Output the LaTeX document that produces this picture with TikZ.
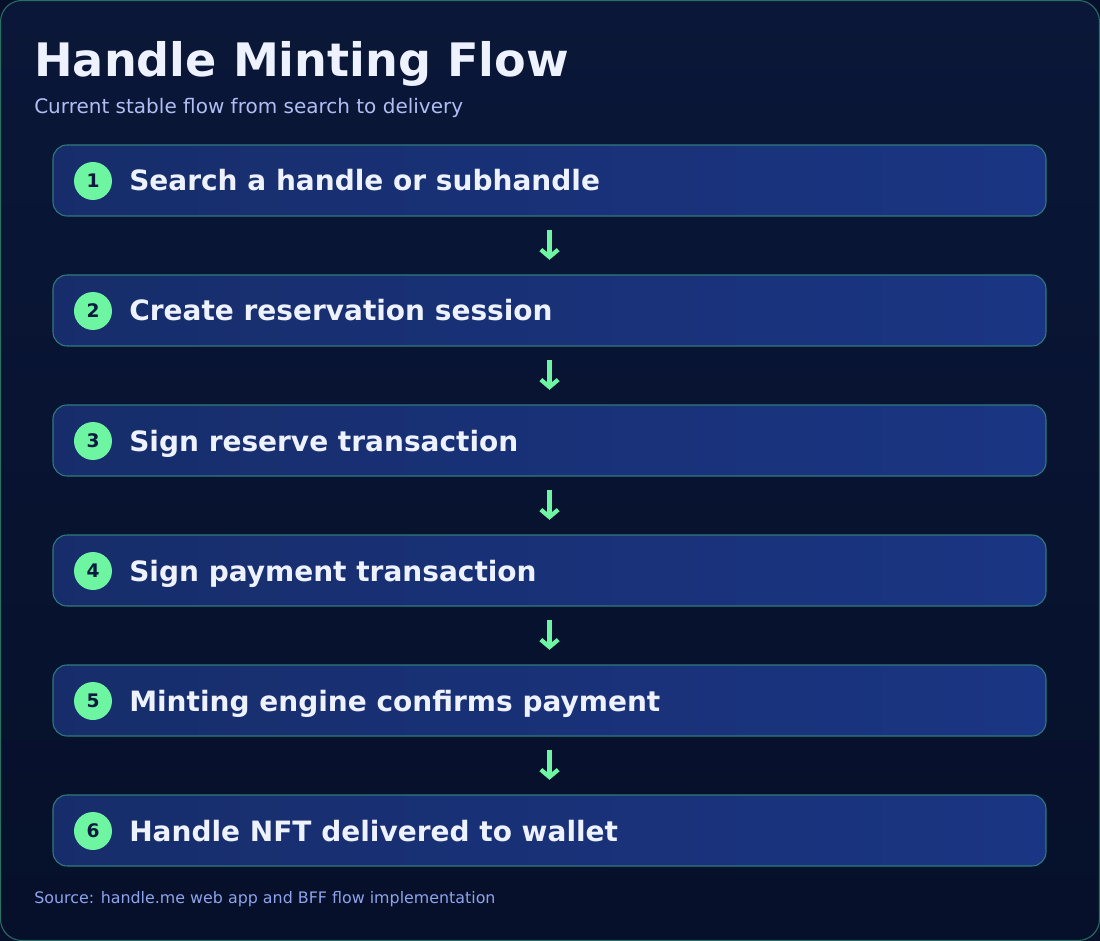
\documentclass[tikz,border=0pt]{standalone}
\usepackage{fontspec}
\setmainfont{DejaVu Sans}
\usetikzlibrary{arrows.meta}

\definecolor{panelbg}{HTML}{0A1738}
\definecolor{paneldark}{HTML}{06102A}
\definecolor{panelline}{HTML}{2A6E64}
\definecolor{boxleft}{HTML}{172D6B}
\definecolor{boxright}{HTML}{1A3583}
\definecolor{boxline}{HTML}{2F7A7C}
\definecolor{mint}{HTML}{6EF5A2}
\definecolor{titletext}{HTML}{EEF2FF}
\definecolor{subtext}{HTML}{B0BEF4}
\definecolor{notetext}{HTML}{8EA3EC}
\definecolor{badgetext}{HTML}{0B1A3E}

\tikzset{
  stepbox/.style={draw=boxline, line width=0.8pt, rounded corners=10.5pt,
    left color=boxleft, right color=boxright,
    minimum width=744.75pt, minimum height=53.25pt, inner sep=0pt},
  badge/.style={circle, fill=mint, minimum size=28.5pt, inner sep=0pt,
    text=badgetext, font=\fontsize{14pt}{16pt}\selectfont\bfseries},
  steptext/.style={anchor=base west, inner sep=0pt, text=titletext,
    font=\fontsize{21pt}{25pt}\selectfont\bfseries},
  flowarrow/.style={draw=mint, line width=3.2pt, shorten <=10pt, shorten >=11pt,
    -{Straight Barb[length=5.5pt,width=13pt]}}
}

\begin{document}
\begin{tikzpicture}[x=0.75pt, y=-0.75pt]
\useasboundingbox (0,0) rectangle (1100,941);
\fill[paneldark] (0,0) rectangle (1100,941);
\path[draw=panelline, line width=0.8pt, rounded corners=16pt,
  top color=panelbg, bottom color=paneldark] (0.5,0.5) rectangle (1099.5,940.5);

\node[anchor=base west, inner sep=0pt, text=titletext,
  font=\fontsize{34.6pt}{40pt}\selectfont\bfseries] (title) at (34,77) {Handle Minting Flow};
\node[anchor=base west, inner sep=0pt, text=subtext,
  font=\fontsize{15pt}{18pt}\selectfont] (subtitle) at (34,113.5) {Current stable flow from search to delivery};

\node[stepbox] (s1) at (549.5,180.5) {};
\node[stepbox] (s2) at (549.5,310.5) {};
\node[stepbox] (s3) at (549.5,440.5) {};
\node[stepbox] (s4) at (549.5,570.5) {};
\node[stepbox] (s5) at (549.5,700.5) {};
\node[stepbox] (s6) at (549.5,830.5) {};

\node[badge] (b1) at (93,181) {1};
\node[badge] (b2) at (93,311) {2};
\node[badge] (b3) at (93,441) {3};
\node[badge] (b4) at (93,571) {4};
\node[badge] (b5) at (93,701) {5};
\node[badge] (b6) at (93,831) {6};

\node[steptext] (t1) at (129,191) {Search a handle or subhandle};
\node[steptext] (t2) at (129,321) {Create reservation session};
\node[steptext] (t3) at (129,451) {Sign reserve transaction};
\node[steptext] (t4) at (129,581) {Sign payment transaction};
\node[steptext] (t5) at (129,711) {Minting engine confirms payment};
\node[steptext] (t6) at (129,841) {Handle NFT delivered to wallet};

\draw[flowarrow] (s1) -- (s2);
\draw[flowarrow] (s2) -- (s3);
\draw[flowarrow] (s3) -- (s4);
\draw[flowarrow] (s4) -- (s5);
\draw[flowarrow] (s5) -- (s6);

\node[anchor=base west, inner sep=0pt, text=notetext,
  font=\fontsize{11.9pt}{14pt}\selectfont] (source) at (34,903) {Source: handle.me web app and BFF flow implementation};
\end{tikzpicture}
\end{document}
